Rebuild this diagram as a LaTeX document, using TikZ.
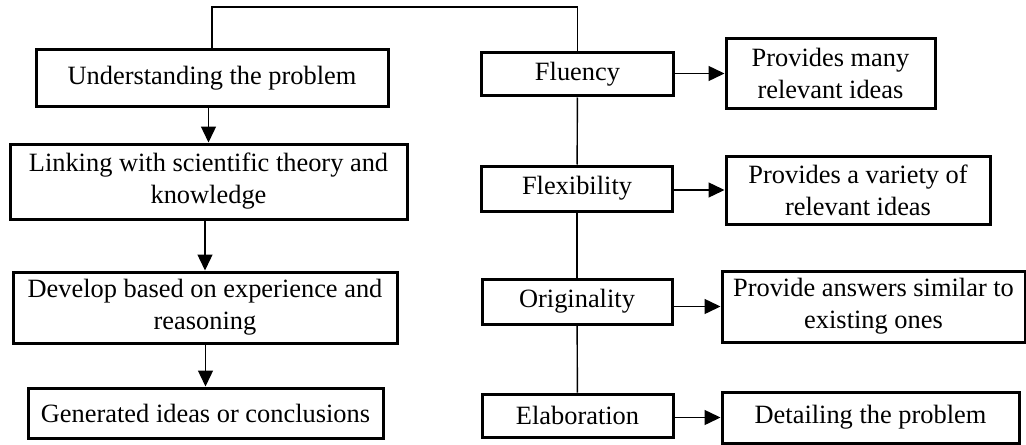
\documentclass[tikz,border=0pt]{standalone}
\usepackage{fontspec}
\setmainfont{Liberation Serif}
\usepackage{tikz}
\usetikzlibrary{arrows.meta,positioning}

\begin{document}
\begin{tikzpicture}[
				x = .5pt, y = -.5pt,
				box/.style = {draw, line width = 1.5pt, align = center, inner sep = 0pt,
					font = \fontsize{13.2}{16}\selectfont},
				arr/.style = {-{Triangle[length=8pt,width=7.5pt]}, line width = .7pt},
				conn/.style = {line width = .7pt}
			]

			\useasboundingbox (0,0) rectangle (1026,444);

			% left column
			\node[box, minimum width=176pt, minimum height=28pt] (und) at (212,78) {Understanding the problem};
			\node[box, minimum width=198.5pt, minimum height=37.5pt] (link) at (208.5,181.5) {Linking with scientific theory and\\ knowledge};
			\node[box, minimum width=192pt, minimum height=35.5pt] (dev) at (205,307.5) {Develop based on experience and\\ reasoning};
			\node[box, minimum width=177.5pt, minimum height=25pt] (gen) at (205.5,413) {Generated ideas or conclusions};

			% right column
			\node[box, minimum width=96pt, minimum height=21.5pt] (flu) at (577.5,74.5) {Fluency};
			\node[box, minimum width=95.5pt, minimum height=22.5pt] (flex) at (577,188.5) {Flexibility};
			\node[box, minimum width=95pt, minimum height=22.5pt] (orig) at (577,301.5) {Originality};
			\node[box, minimum width=95.5pt, minimum height=21.5pt] (elab) at (577.5,415.5) {Elaboration};

			\node[box, minimum width=104.5pt, minimum height=34.5pt] (many) at (830.5,73.5) {Provides many\\ relevant ideas};
			\node[box, minimum width=132pt, minimum height=34pt] (var) at (858,190) {Provides a variety of\\ relevant ideas};
			\node[box, minimum width=151.5pt, minimum height=35.5pt] (ans) at (873.5,306.5) {Provide answers similar to\\ existing ones};
			\node[box, minimum width=148.5pt, minimum height=25.5pt] (det) at (870.5,417.5) {Detailing the problem};

			% connectors
			\coordinate (top) at (0,7);
			\draw[conn] (und.north) -- (und.north |- top) -| (flu.north);

			\draw[arr] (link.north |- und.south) -- (link.north);
			\draw[arr] (dev.north |- link.south) -- (dev.north);
			\draw[arr] (gen.north |- dev.south) -- (gen.north);

			\draw[conn] (flu) -- (flex);
			\draw[conn] (flex) -- (orig);
			\draw[conn] (orig) -- (elab);

			\draw[arr] (flu.east |- many.west) -- (many.west);
			\draw[arr] (flex.east |- var.west) -- (var.west);
			\draw[arr] (orig.east |- ans.west) -- (ans.west);
			\draw[arr] (elab.east |- det.west) -- (det.west);

			\end{tikzpicture}
\end{document}
